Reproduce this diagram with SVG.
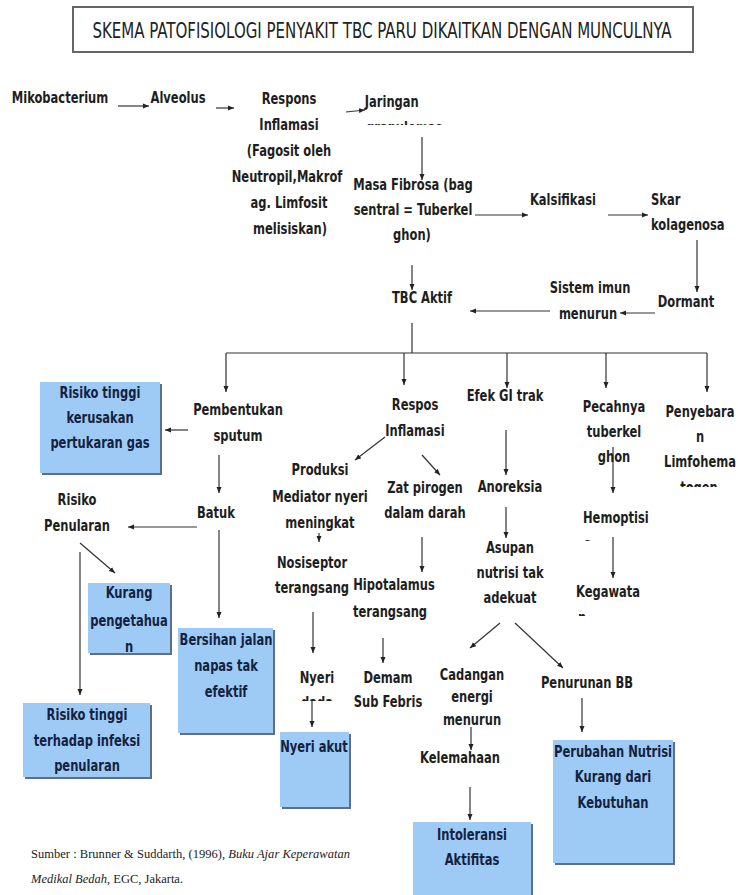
<svg xmlns="http://www.w3.org/2000/svg" width="738" height="895" viewBox="0 0 738 895">
<style>
.t{font-family:"DejaVu Sans Condensed","Liberation Sans",sans-serif;font-weight:bold;font-size:16px;fill:#1e1e1e;text-anchor:middle;transform-box:fill-box;transform-origin:center;transform:scaleX(0.8)}
.s{text-anchor:start;transform-origin:left center}
.bt{fill:#15223f}
.box{fill:#9dcbf6}
.sh{fill:#5d6e89}
.ln{fill:none;stroke:#333;stroke-width:1.2}
.ar{marker-end:url(#ah)}
.src{font-family:"Liberation Serif","DejaVu Serif",serif;font-size:12.5px;fill:#222}
</style>
<defs>
<marker id="ah" viewBox="0 0 6 6" refX="6" refY="3" markerWidth="6" markerHeight="6" markerUnits="userSpaceOnUse" orient="auto">
<path d="M0,0.5 L6,3 L0,5.5 z" fill="#222"/>
</marker>
<clipPath id="c1"><rect x="340" y="110" width="140" height="15"/></clipPath>
<clipPath id="c2"><rect x="640" y="470" width="98" height="17"/></clipPath>
<clipPath id="c3"><rect x="570" y="527" width="50" height="14"/></clipPath>
<clipPath id="c4"><rect x="565" y="601" width="50" height="15"/></clipPath>
<clipPath id="c5"><rect x="280" y="687" width="75" height="14"/></clipPath>
</defs>
<rect width="738" height="895" fill="#fff"/>

<g id="title">
<rect x="73" y="7" width="620" height="45" fill="#fff" stroke="#666" stroke-width="2"/>
<text x="382" y="38" font-family="DejaVu Sans Condensed,Liberation Sans,sans-serif" font-size="22" fill="#222" text-anchor="middle" transform="matrix(0.76 0 0 1 91.68 0)">SKEMA PATOFISIOLOGI PENYAKIT TBC PARU DIKAITKAN DENGAN MUNCULNYA</text>
</g>

<g id="connectors">
<path class="ln ar" d="M118,106 H149"/>
<path class="ln ar" d="M216,108 H234"/>
<path class="ln ar" d="M346,112 L365,110"/>
<path class="ln ar" d="M422,137 V180"/>
<path class="ln ar" d="M475,215 H528"/>
<path class="ln ar" d="M608,215 H648"/>
<path class="ln ar" d="M697,240 V292"/>
<path class="ln ar" d="M655,313 H620"/>
<path class="ln ar" d="M550,311 H470"/>
<path class="ln ar" d="M412,265 V290"/>
<path class="ln" d="M412,323 V353"/>
<path class="ln" d="M226,353 H707" stroke-width="2" stroke="#555"/>
<path class="ln ar" d="M226,353 V392"/>
<path class="ln ar" d="M404,353 V385"/>
<path class="ln ar" d="M507,353 V388"/>
<path class="ln ar" d="M606,353 V388"/>
<path class="ln ar" d="M707,353 V392"/>
<path class="ln ar" d="M188,430 H165"/>
<path class="ln ar" d="M219,455 V493"/>
<path class="ln ar" d="M197,527 H128"/>
<path class="ln ar" d="M80,543 L115,573"/>
<path class="ln ar" d="M80,552 V695"/>
<path class="ln ar" d="M219,530 V618"/>
<path class="ln ar" d="M385,437 L355,460"/>
<path class="ln ar" d="M422,455 L440,475"/>
<path class="ln ar" d="M319,533 V542"/>
<path class="ln ar" d="M422,537 V572"/>
<path class="ln ar" d="M313,612 V653"/>
<path class="ln ar" d="M383,638 V663"/>
<path class="ln ar" d="M312,700 V727"/>
<path class="ln ar" d="M506,430 V475"/>
<path class="ln ar" d="M506,507 V538"/>
<path class="ln ar" d="M500,623 L470,648"/>
<path class="ln ar" d="M515,623 L563,668"/>
<path class="ln ar" d="M471,727 V750"/>
<path class="ln ar" d="M470,787 V820"/>
<path class="ln ar" d="M582,698 V732"/>
<path class="ln ar" d="M613,447 V493"/>
<path class="ln ar" d="M613,537 V578"/>
</g>

<g id="n_mikobacterium"><text class="t" x="60" y="103">Mikobacterium</text></g>
<g id="n_alveolus"><text class="t" x="178" y="103">Alveolus</text></g>
<g id="n_respons">
<text class="t" x="289" y="104">Respons</text>
<text class="t" x="289" y="130">Inflamasi</text>
<text class="t" x="289" y="156">(Fagosit oleh</text>
<text class="t" x="287" y="182">Neutropil,Makrof</text>
<text class="t" x="289" y="208">ag. Limfosit</text>
<text class="t" x="290" y="234">melisiskan)</text>
</g>
<g id="n_jaringan">
<text class="t s" x="365" y="107">Jaringan</text>
<g clip-path="url(#c1)"><text class="t s" x="366" y="133">granulomas</text></g>
</g>
<g id="n_masa">
<text class="t" x="413" y="190">Masa Fibrosa (bag</text>
<text class="t" x="413" y="215">sentral = Tuberkel</text>
<text class="t" x="412" y="240">ghon)</text>
</g>
<g id="n_kalsifikasi"><text class="t" x="563" y="205">Kalsifikasi</text></g>
<g id="n_skar">
<text class="t s" x="651" y="205">Skar</text>
<text class="t s" x="651" y="230">kolagenosa</text>
</g>
<g id="n_dormant"><text class="t" x="686" y="307">Dormant</text></g>
<g id="n_sistem">
<text class="t" x="590" y="293">Sistem imun</text>
<text class="t" x="588" y="319">menurun</text>
</g>
<g id="n_tbc"><text class="t" x="422" y="303">TBC Aktif</text></g>

<g id="n_pembentukan">
<text class="t" x="238" y="415">Pembentukan</text>
<text class="t" x="238" y="441">sputum</text>
</g>
<g id="n_risiko_gas">
<rect class="sh" x="42" y="384" width="120" height="91"/>
<rect class="box" x="40" y="382" width="120" height="91"/>
<text class="t bt" x="100" y="398">Risiko tinggi</text>
<text class="t bt" x="100" y="423">kerusakan</text>
<text class="t bt" x="100" y="448">pertukaran gas</text>
</g>
<g id="n_batuk"><text class="t" x="216" y="518">Batuk</text></g>
<g id="n_risiko_penularan">
<text class="t" x="77" y="505">Risiko</text>
<text class="t" x="77" y="531">Penularan</text>
</g>
<g id="n_kurang">
<rect class="sh" x="90" y="585" width="82" height="70"/>
<rect class="box" x="88" y="583" width="82" height="70"/>
<text class="t bt" x="129" y="598">Kurang</text>
<text class="t bt" x="129" y="626">pengetahua</text>
<text class="t bt" x="129" y="652">n</text>
</g>
<g id="n_risiko_infeksi">
<rect class="sh" x="25" y="705" width="127" height="74"/>
<rect class="box" x="23" y="703" width="127" height="74"/>
<text class="t bt" x="87" y="720">Risiko tinggi</text>
<text class="t bt" x="87" y="746">terhadap infeksi</text>
<text class="t bt" x="87" y="771">penularan</text>
</g>
<g id="n_bersihan">
<rect class="sh" x="180" y="630" width="95" height="105"/>
<rect class="box" x="178" y="628" width="95" height="105"/>
<text class="t bt" x="226" y="645">Bersihan jalan</text>
<text class="t bt" x="226" y="671">napas tak</text>
<text class="t bt" x="226" y="697">efektif</text>
</g>

<g id="n_respos">
<text class="t" x="415" y="410">Respos</text>
<text class="t" x="415" y="436">Inflamasi</text>
</g>
<g id="n_produksi">
<text class="t" x="320" y="475">Produksi</text>
<text class="t" x="320" y="502">Mediator nyeri</text>
<text class="t" x="320" y="528">meningkat</text>
</g>
<g id="n_zat">
<text class="t" x="425" y="493">Zat pirogen</text>
<text class="t" x="425" y="518">dalam darah</text>
</g>
<g id="n_nosiseptor">
<text class="t" x="312" y="568">Nosiseptor</text>
<text class="t" x="312" y="593">terangsang</text>
</g>
<g id="n_hipotalamus">
<text class="t" x="394" y="590">Hipotalamus</text>
<text class="t" x="390" y="617">terangsang</text>
</g>
<g id="n_nyeri">
<text class="t" x="317" y="683">Nyeri</text>
<g clip-path="url(#c5)"><text class="t" x="317" y="708">dada</text></g>
</g>
<g id="n_demam">
<text class="t" x="388" y="683">Demam</text>
<text class="t" x="388" y="707">Sub Febris</text>
</g>
<g id="n_nyeri_akut">
<rect class="sh" x="282" y="734" width="69" height="75"/>
<rect class="box" x="280" y="732" width="69" height="75"/>
<text class="t bt" x="314" y="752">Nyeri akut</text>
</g>

<g id="n_efek"><text class="t" x="505" y="401">Efek GI trak</text></g>
<g id="n_anoreksia"><text class="t" x="510" y="492">Anoreksia</text></g>
<g id="n_asupan">
<text class="t" x="510" y="553">Asupan</text>
<text class="t" x="510" y="578">nutrisi tak</text>
<text class="t" x="510" y="603">adekuat</text>
</g>
<g id="n_cadangan">
<text class="t" x="472" y="680">Cadangan</text>
<text class="t" x="472" y="702">energi</text>
<text class="t" x="472" y="725">menurun</text>
</g>
<g id="n_kelemahaan"><text class="t" x="460" y="763">Kelemahaan</text></g>
<g id="n_intoleransi">
<rect class="sh" x="415" y="824" width="118" height="73"/>
<rect class="box" x="413" y="822" width="118" height="73"/>
<text class="t bt" x="472" y="840">Intoleransi</text>
<text class="t bt" x="472" y="865">Aktifitas</text>
</g>
<g id="n_penurunan"><text class="t" x="587" y="688">Penurunan BB</text></g>
<g id="n_perubahan">
<rect class="sh" x="555" y="742" width="120" height="123"/>
<rect class="box" x="553" y="740" width="120" height="123"/>
<text class="t bt" x="613" y="757">Perubahan Nutrisi</text>
<text class="t bt" x="613" y="782">Kurang dari</text>
<text class="t bt" x="613" y="808">Kebutuhan</text>
</g>

<g id="n_pecahnya">
<text class="t" x="614" y="412">Pecahnya</text>
<text class="t" x="614" y="437">tuberkel</text>
<text class="t" x="614" y="462">ghon</text>
</g>
<g id="n_hemoptisi">
<text class="t s" x="583" y="523">Hemoptisi</text>
<g clip-path="url(#c3)"><text class="t s" x="584" y="549">s</text></g>
</g>
<g id="n_kegawata">
<text class="t s" x="576" y="597">Kegawata</text>
<g clip-path="url(#c4)"><text class="t s" x="578" y="623">n</text></g>
</g>
<g id="n_penyebaran">
<text class="t" x="700" y="417">Penyebara</text>
<text class="t" x="700" y="442">n</text>
<text class="t" x="700" y="467">Limfohema</text>
<g clip-path="url(#c2)"><text class="t" x="699" y="493">togen</text></g>
</g>

<g id="source">
<text class="src" x="31" y="858" textLength="319" lengthAdjust="spacing">Sumber : Brunner &amp; Suddarth, (1996), <tspan font-style="italic">Buku Ajar Keperawatan</tspan></text>
<text class="src" x="31" y="883"><tspan font-style="italic">Medikal Bedah</tspan>, EGC, Jakarta.</text>
</g>
</svg>
